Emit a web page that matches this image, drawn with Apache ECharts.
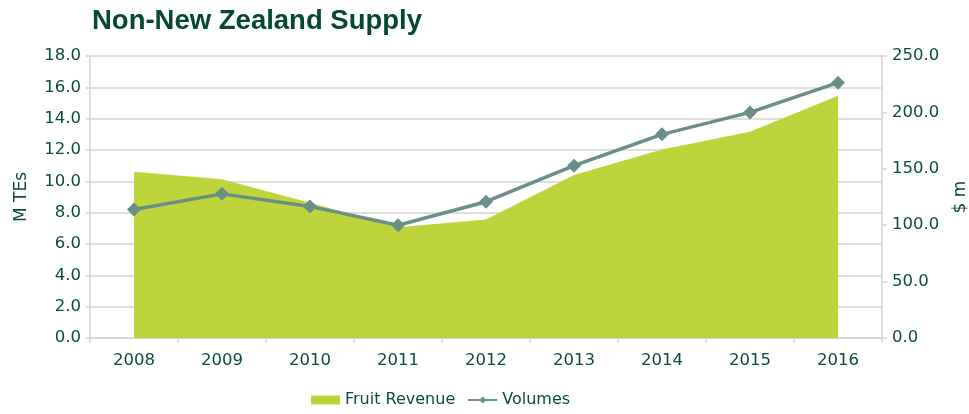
<!DOCTYPE html>
<html>
<head>
<meta charset="utf-8">
<script src="https://cdn.jsdelivr.net/npm/echarts@6/dist/echarts.min.js"></script>
<style>
  html, body { margin: 0; padding: 0; background: #fff; }
  #chart { width: 969px; height: 414px; }
</style>
</head>
<body>
<div id="chart"></div>
<script>
const years = ["2008", "2009", "2010", "2011", "2012", "2013", "2014", "2015", "2016"];
// $ m (right axis)
const fruitRevenue = [147.4, 140.7, 120.0, 98.1, 105.1, 144.4, 167.2, 182.9, 214.7];
// M TEs (left axis)
const volumes = [8.2, 9.2, 8.4, 7.2, 8.7, 11.0, 13.0, 14.4, 16.3];

const textColor = "#0d4b3a";
const gridColor = "#d3d3d3";
const font = "DejaVu Sans";

const chart = echarts.init(document.getElementById("chart"), null, { renderer: "canvas" });

chart.setOption({
  animation: false,
  title: {
    text: "Non-New Zealand Supply",
    left: 87,
    top: 2,
    textStyle: { fontFamily: "Liberation Sans", fontWeight: 900, fontSize: 27.5, color: "#07482f" }
  },
  legend: {
    bottom: 1,
    left: 306,
    itemGap: 12,
    itemWidth: 29,
    itemHeight: 9,
    textStyle: { fontFamily: font, fontSize: 16, color: textColor },
    data: [
      { name: "Fruit Revenue", icon: "rect" },
      { name: "Volumes" }
    ]
  },
  grid: { left: 90, right: 87, top: 56, bottom: 76, outerBoundsMode: "none", containLabel: false },
  xAxis: {
    type: "category",
    data: years,
    boundaryGap: true,
    axisLine: { lineStyle: { color: gridColor, width: 1.5 } },
    axisTick: { show: true, length: 5, lineStyle: { color: gridColor, width: 1.5 } },
    axisLabel: { fontFamily: font, fontSize: 16.5, color: textColor, margin: 14 }
  },
  yAxis: [
    {
      type: "value",
      name: "M TEs",
      nameLocation: "middle",
      nameGap: 60,
      nameTextStyle: { fontFamily: font, fontSize: 17, color: textColor },
      min: 0, max: 18, interval: 2,
      axisLine: { show: true, lineStyle: { color: gridColor, width: 1.5 } },
      axisTick: { show: true, length: 4, lineStyle: { color: gridColor, width: 1.5 } },
      splitLine: { lineStyle: { color: gridColor, width: 1.5 } },
      axisLabel: {
        fontFamily: font, fontSize: 16.5, color: textColor, margin: 9,
        formatter: (v) => v.toFixed(1)
      }
    },
    {
      type: "value",
      name: "$ m",
      nameLocation: "middle",
      nameGap: 70,
      nameRotate: 90,
      nameTextStyle: { fontFamily: font, fontSize: 17, color: textColor },
      min: 0, max: 250, interval: 50,
      axisLine: { show: true, lineStyle: { color: gridColor, width: 1.5 } },
      axisTick: { show: true, length: 5, lineStyle: { color: gridColor, width: 1.5 } },
      splitLine: { show: false },
      axisLabel: {
        fontFamily: font, fontSize: 16.5, color: textColor, margin: 10,
        formatter: (v) => v.toFixed(1)
      }
    }
  ],
  series: [
    {
      name: "Fruit Revenue",
      type: "line",
      yAxisIndex: 1,
      data: fruitRevenue,
      symbol: "none",
      itemStyle: { color: "#bdd53b" },
      lineStyle: { width: 0 },
      areaStyle: { color: "#bdd53b", opacity: 1 },
      z: 1
    },
    {
      name: "Volumes",
      type: "line",
      yAxisIndex: 0,
      data: volumes,
      symbol: "diamond",
      symbolSize: 14,
      itemStyle: { color: "#6a8f88" },
      lineStyle: { color: "#6a8f88", width: 3.5 },
      z: 3
    }
  ]
});
</script>
</body>
</html>
